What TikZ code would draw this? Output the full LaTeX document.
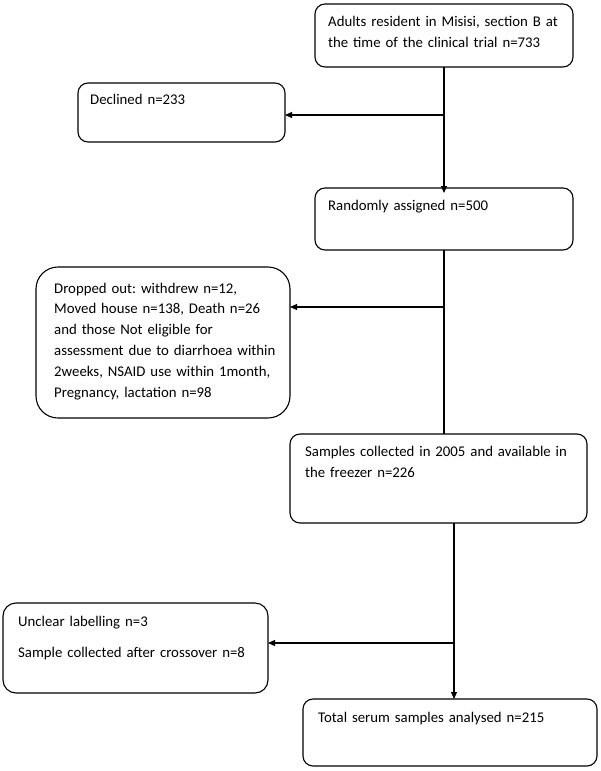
\documentclass[tikz,border=0pt]{standalone}
\usepackage{fontspec}
\setmainfont{Carlito}
\usetikzlibrary{arrows.meta}
\frenchspacing
\begin{document}
\begin{tikzpicture}[x=1pt,y=-1pt,
  box/.style={draw, line width=1.1pt, rounded corners=10pt, inner sep=0pt, outer sep=0pt},
  txt/.style={anchor=base west, inner sep=0pt, align=left, text width=#1,
    font=\fontsize{14.8}{20.8}\selectfont},
  arr/.style={line width=1.1pt, -{Triangle[length=7pt,width=6pt]}},
  ln/.style={line width=1.1pt}]
\useasboundingbox (0,0) rectangle (600,771);

% boxes
\node[box, minimum width=258pt, minimum height=63pt] (adults) at (444,35.5) {};
\node[box, minimum width=207pt, minimum height=59pt] (declined) at (181.5,112.5) {};
\node[box, minimum width=258pt, minimum height=62pt] (random) at (444,219) {};
\node[box, rounded corners=22pt, minimum width=254pt, minimum height=151pt] (dropped) at (163,342.5) {};
\node[box, minimum width=297pt, minimum height=89pt] (samples) at (438.5,478.5) {};
\node[box, rounded corners=13pt, minimum width=265pt, minimum height=90pt] (unclear) at (135.5,648) {};
\node[box, minimum width=294pt, minimum height=67pt] (total) at (450,732.5) {};

% texts
\node[txt=240pt] (adults-t) at (328,27) {Adults resident in Misisi, section B at\\the time of the clinical trial n=733};
\node[txt=180pt] (declined-t) at (90,104) {Declined n=233};
\node[txt=240pt] (random-t) at (328,210.7) {Randomly assigned n=500};
\node[txt=230pt] (dropped-t) at (54,293) {Dropped out: withdrew n=12,\\Moved house n=138, Death n=26\\and those Not eligible for\\assessment due to diarrhoea within\\2weeks, NSAID use within 1month,\\Pregnancy, lactation n=98};
\node[txt=270pt] (samples-t) at (305,456.7) {Samples collected in 2005 and available in\\the freezer n=226};
\node[txt=240pt] (unclear-t) at (18,626.7) {Unclear labelling n=3\\[10pt]Sample collected after crossover n=8};
\node[txt=270pt] (total-t) at (318,722.7) {Total serum samples analysed n=215};

% connectors
\draw[arr] (adults.south) -- ([yshift=-5pt]random.north);
\coordinate (j1) at (adults.south |- 0,115);
\draw[arr] (j1) -- (j1 -| declined.east);

\draw[ln] (random.south) -- (random.south |- samples.north);
\coordinate (j2) at (random.south |- 0,307);
\draw[arr] (j2) -- (j2 -| dropped.east);

\coordinate (s1) at (454,0 |- samples.south);
\draw[arr] (s1) -- (s1 |- total.north);
\coordinate (j3) at (s1 |- 0,643);
\draw[arr] (j3) -- (j3 -| unclear.east);
\end{tikzpicture}
\end{document}
